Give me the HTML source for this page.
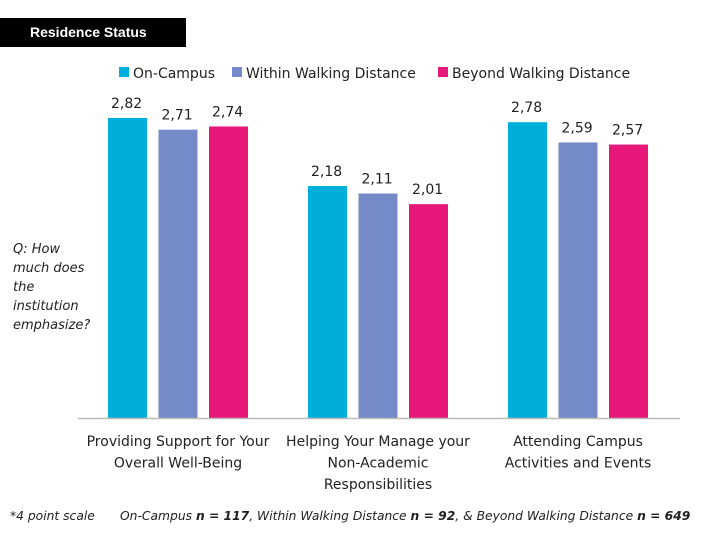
<!DOCTYPE html>
<html><head><meta charset="utf-8">
<style>
body{margin:0;width:720px;height:540px;background:#fff;font-family:"DejaVu Sans",sans-serif;position:relative;overflow:hidden}
.t{position:absolute;white-space:nowrap}
</style></head><body>
<div class="t" style="left:0;top:18px;width:186px;height:29px;background:#000;color:#fff;font-size:14px;font-weight:bold;line-height:29px;padding-left:30px;box-sizing:border-box;font-family:'Liberation Sans',sans-serif">Residence Status</div>
<div class="t" style="left:13px;top:240px;font-size:13px;font-style:italic;line-height:19px;white-space:normal;width:85px;color:#222">Q: How much does the institution emphasize?</div>
<div class="t" style="left:10px;top:509px;font-size:12.3px;font-style:italic;color:#222">*4 point scale</div>
<div class="t" style="left:120px;top:509px;font-size:12.3px;font-style:italic;color:#222">On-Campus <b>n = 117</b>, Within Walking Distance <b>n = 92</b>, &amp; Beyond Walking Distance <b>n = 649</b></div>
<svg id="c" width="720" height="540" style="position:absolute;left:0;top:0"></svg>
<script>
const categories=[["Providing Support for Your","Overall Well-Being"],["Helping Your Manage your","Non-Academic","Responsibilities"],["Attending Campus","Activities and Events"]];
const seriesNames=["On-Campus","Within Walking Distance","Beyond Walking Distance"];
const onCampus=[2.82,2.18,2.78];
const withinWalking=[2.71,2.11,2.59];
const beyondWalking=[2.74,2.01,2.57];
const colors=["#00AEDB","#758BC9","#E8177A"];
const series=[onCampus,withinWalking,beyondWalking];
const svg=document.getElementById('c');
const NS="http://www.w3.org/2000/svg";
const base=418,ppu=106.4;
const FF='DejaVu Sans, sans-serif';
function y(v){return base-v*ppu;}
function gx(g,s){return 108+g*200+s*50.5;}
function mk(t,a){const e=document.createElementNS(NS,t);for(const k in a)e.setAttribute(k,a[k]);svg.appendChild(e);return e;}
series.forEach((vals,s)=>{vals.forEach((v,g)=>{
 const r=mk('rect',{x:gx(g,s),y:y(v),width:39,height:base-y(v),fill:colors[s]});
 
 
 const t=mk('text',{x:gx(g,s)+3,y:y(v)-10,'font-size':14,fill:'#222','font-family':FF});
 t.textContent=v.toFixed(2).replace('.',',');
 
 
});});
const ax=mk('line',{x1:78,x2:680,y1:base+0.5,y2:base+0.5,stroke:'#bbb','stroke-width':1.5});


categories.forEach((lines,g)=>{
 const cx=gx(g,1)+19.5;
 lines.forEach((l,i)=>{
  const t=mk('text',{x:cx,y:446+i*21.5,'text-anchor':'middle','font-size':14,fill:'#222','font-family':FF});
  t.textContent=l;
  
  
 });
});
const lx=[119,232,438];
seriesNames.forEach((n,i)=>{
 const r=mk('rect',{x:lx[i],y:67,width:10,height:10,fill:colors[i]});
 
 
 const t=mk('text',{x:lx[i]+14,y:78,'font-size':14,fill:'#222','font-family':FF});
 t.textContent=n;
 
 
});
</script>
</body></html>
